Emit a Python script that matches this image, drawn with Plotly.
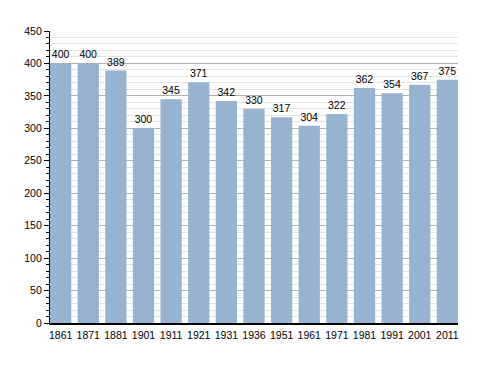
import plotly.graph_objects as go

years = ["1861", "1871", "1881", "1901", "1911", "1921", "1931", "1936",
         "1951", "1961", "1971", "1981", "1991", "2001", "2011"]
population = [400, 400, 389, 300, 345, 371, 342, 330, 317, 304, 322, 362, 354, 367, 375]

xpos = list(range(len(years)))

fig = go.Figure(go.Bar(
    x=xpos, y=population, width=0.77,
    marker=dict(color="#97B3D0", line=dict(width=0)),
    text=[str(v) for v in population], textposition="outside",
    textfont=dict(family="Liberation Sans, Arial", size=10.5, color="#000"),
    cliponaxis=False,
))

fig.update_layout(
    width=472, height=357,
    margin=dict(l=42, r=22, t=23, b=42),
    plot_bgcolor="white", paper_bgcolor="white",
    showlegend=False,
    font=dict(family="Liberation Sans, Arial", size=10.5, color="#000"),
)
fig.update_xaxes(
    range=[-0.385, len(years) - 1 + 0.385],
    tickmode="array", tickvals=xpos, ticktext=years,
    showline=True, linecolor="#000", linewidth=1.5,
    showgrid=False, ticks="outside", ticklen=2, tickcolor="rgba(0,0,0,0)",
    tickfont=dict(size=10.5),
)
fig.update_yaxes(
    range=[0, 450], dtick=50,
    showline=True, linecolor="#000", linewidth=1.2,
    showgrid=True, gridcolor="#b0b0b0", gridwidth=1,
    ticks="outside", ticklen=5, tickcolor="#000",
    minor=dict(dtick=10, showgrid=True, gridcolor="#e4e4e4", ticks="outside", ticklen=3, tickcolor="#000"),
    zeroline=False,
    tickfont=dict(size=10.5),
)

fig.write_html("out.html")
